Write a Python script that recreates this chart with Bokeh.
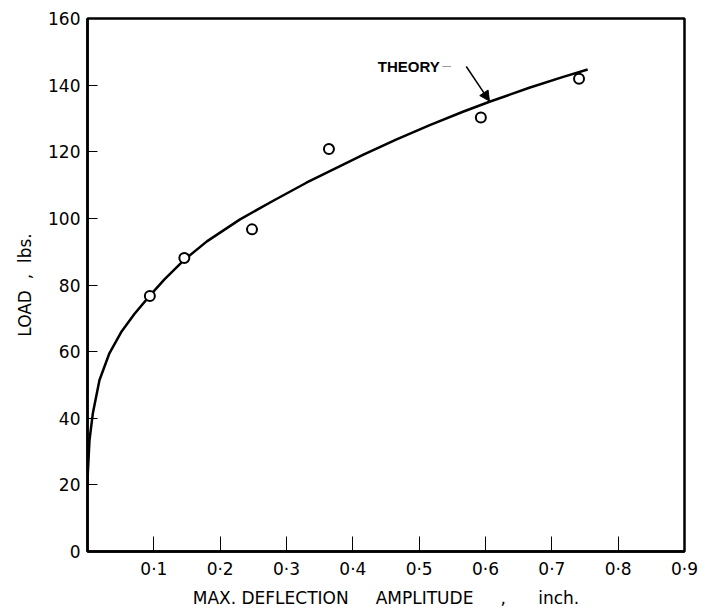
from bokeh.plotting import figure
from bokeh.models import FixedTicker, Label, Arrow, NormalHead
from bokeh.embed import file_html
from bokeh.resources import INLINE

# ---- data ----
theory_x = [0.0, 0.0005, 0.003, 0.008, 0.018, 0.033, 0.0506, 0.0707, 0.093,
            0.116, 0.145, 0.18, 0.23, 0.28, 0.33, 0.38, 0.416, 0.466,
            0.516, 0.566, 0.606, 0.666, 0.716, 0.754]
theory_load = [20, 23.5, 33.4, 41.4, 51.4, 59.5, 65.8, 71.3, 76.6,
               81.7, 87.4, 93.1, 99.7, 105.3, 110.7, 115.6, 119.1, 123.7,
               128.0, 132.0, 135.0, 139.2, 142.4, 144.7]

exp_x = [0.094, 0.146, 0.248, 0.364, 0.593, 0.741]
exp_load = [76.7, 88.1, 96.7, 120.8, 130.3, 141.9]

x_ticks = [0.1, 0.2, 0.3, 0.4, 0.5, 0.6, 0.7, 0.8, 0.9]
x_tick_labels = ["0·1", "0·2", "0·3", "0·4", "0·5", "0·6", "0·7", "0·8", "0·9"]
y_ticks = [0, 20, 40, 60, 80, 100, 120, 140, 160]
y_tick_labels = ["0", "20", "40", "60", "80", "100", "120", "140", "160"]

FONT = "DejaVu Sans"
NB = "\u00a0"

p = figure(width=705, height=614, x_range=(0, 0.9), y_range=(0, 160),
           output_backend="svg", toolbar_location=None,
           min_border_left=87, min_border_right=21,
           min_border_top=18, min_border_bottom=63)

p.xgrid.visible = False
p.ygrid.visible = False
p.outline_line_color = "black"
p.outline_line_width = 2.5
p.background_fill_color = "white"
p.border_fill_color = "white"

# axes
p.xaxis.ticker = FixedTicker(ticks=x_ticks)
p.xaxis.major_label_overrides = {t: l for t, l in zip(x_ticks, x_tick_labels)}
p.yaxis.ticker = FixedTicker(ticks=y_ticks)
p.yaxis.major_label_overrides = {t: l for t, l in zip(y_ticks, y_tick_labels)}

for ax in (p.xaxis[0], p.yaxis[0]):
    ax.axis_line_width = 2.5
    ax.axis_line_color = "black"
    ax.major_tick_out = 0
    ax.minor_tick_in = 0
    ax.minor_tick_out = 0
    ax.major_tick_line_width = 1
    ax.major_tick_line_color = "black"
    ax.major_label_text_font = FONT
    ax.major_label_text_font_size = "17px"
    ax.major_label_text_color = "black"
    ax.axis_label_text_font = FONT
    ax.axis_label_text_font_size = "17px"
    ax.axis_label_text_font_style = "normal"
    ax.axis_label_text_color = "black"

p.xaxis.major_tick_in = 15
p.yaxis.major_tick_in = 10
p.xaxis.major_label_standoff = 7
p.yaxis.major_label_standoff = 7
p.xaxis.axis_label = ("MAX." + NB + "DEFLECTION" + NB * 5 + "AMPLITUDE" + NB * 5
                      + "," + NB * 6 + "inch.")
p.yaxis.axis_label = "LOAD" + NB * 2 + "," + NB * 2 + "lbs."
p.xaxis.axis_label_standoff = 6
p.yaxis.axis_label_standoff = 10

# theory curve
p.line(theory_x, theory_load, line_color="black", line_width=2.5,
       line_join="round")

# experimental points
p.scatter(exp_x, exp_load, marker="circle", size=10, fill_color="white",
          line_color="black", line_width=2)

# annotation
label_x, label_y = 0.4376, 145.6
p.add_layout(Label(x=label_x, y=label_y, text="THEORY", text_align="left",
                   text_baseline="middle", text_font="Liberation Sans",
                   text_font_size="15px", text_font_style="bold", text_color="black"))
p.segment(x0=[0.535], y0=[145.6], x1=[0.548], y1=[145.6],
          line_color="#999999", line_width=1)
p.add_layout(Arrow(x_start=0.571, y_start=145.6, x_end=0.606, y_end=135.2,
                   line_color="black", line_width=1.5,
                   end=NormalHead(size=10, fill_color="black", line_color="black")))

open("out.html", "w").write(file_html(p, INLINE))
